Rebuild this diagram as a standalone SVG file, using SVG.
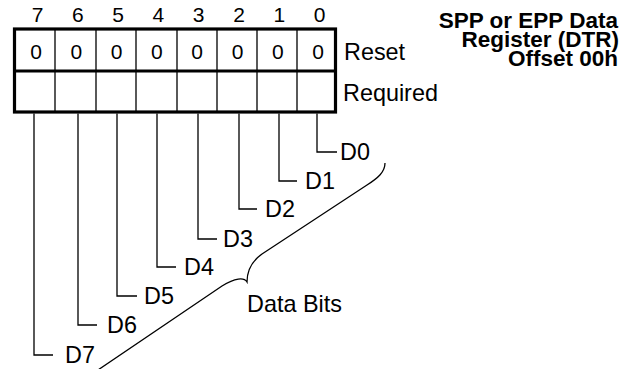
<svg xmlns="http://www.w3.org/2000/svg" width="637" height="369" viewBox="0 0 637 369">
<style>
text{font-family:"Liberation Sans",Arial,Helvetica,sans-serif;fill:#000}
.num{font-size:21px;text-anchor:middle}
.val{font-size:21px;text-anchor:middle}
.lbl{font-size:23.4px}
.title{font-size:22.5px;font-weight:bold;text-anchor:end}
.thick{fill:none;stroke:#000;stroke-width:3.2}
.thin{fill:none;stroke:#000;stroke-width:1.3}
.wire{fill:none;stroke:#000;stroke-width:1.3}
</style>
<rect width="637" height="369" fill="#fff"/>
<g id="title">
<text class="title"><tspan x="618" y="28">SPP or EPP Data</tspan><tspan x="619" y="47">Register (DTR)</tspan><tspan x="618" y="66">Offset 00h</tspan></text>
</g>
<g id="register">
<g id="bit-numbers">
<text class="num" x="37.5" y="22">7</text>
<text class="num" x="77.8" y="22">6</text>
<text class="num" x="118" y="22">5</text>
<text class="num" x="158.4" y="22">4</text>
<text class="num" x="198.7" y="22">3</text>
<text class="num" x="239" y="22">2</text>
<text class="num" x="279.3" y="22">1</text>
<text class="num" x="319.6" y="22">0</text>
</g>
<path class="thin" d="M55,29V112M96,29V112M136,29V112M177,29V112M217,29V112M257,29V112M297,29V112"/>
<rect class="thick" x="14.5" y="29" width="321" height="83"/>
<line class="thick" x1="14.5" y1="71" x2="335.5" y2="71"/>
<g id="reset-values">
<text class="val" x="36" y="59">0</text>
<text class="val" x="76.3" y="59">0</text>
<text class="val" x="116.6" y="59">0</text>
<text class="val" x="156.9" y="59">0</text>
<text class="val" x="197.2" y="59">0</text>
<text class="val" x="237.5" y="59">0</text>
<text class="val" x="277.8" y="59">0</text>
<text class="val" x="318.1" y="59">0</text>
</g>
<text class="lbl" x="344" y="60">Reset</text>
<text class="lbl" x="343" y="101">Required</text>
</g>
<g id="connectors">
<path class="wire" d="M317,113.5V152H337"/>
<path class="wire" d="M279,113.5V181H297"/>
<path class="wire" d="M239,113.5V209H257"/>
<path class="wire" d="M198,113.5V239H217"/>
<path class="wire" d="M157,113.5V267H176"/>
<path class="wire" d="M117,113.5V296H137"/>
<path class="wire" d="M78,113.5V325H97"/>
<path class="wire" d="M34,113.5V355H53"/>
<path id="brace" class="wire" d="M385,163C385,172 378,178 367,185L262,254C252,261 247,270 247,282C244,277 235,278 222,286L95,372"/>
</g>
<g id="bit-labels">
<text class="lbl" x="340" y="160">D0</text>
<text class="lbl" x="305" y="189">D1</text>
<text class="lbl" x="265" y="217">D2</text>
<text class="lbl" x="223" y="247">D3</text>
<text class="lbl" x="184" y="275">D4</text>
<text class="lbl" x="144" y="304">D5</text>
<text class="lbl" x="107" y="333">D6</text>
<text class="lbl" x="65" y="363">D7</text>
<text class="lbl" x="247" y="312">Data Bits</text>
</g>
</svg>
